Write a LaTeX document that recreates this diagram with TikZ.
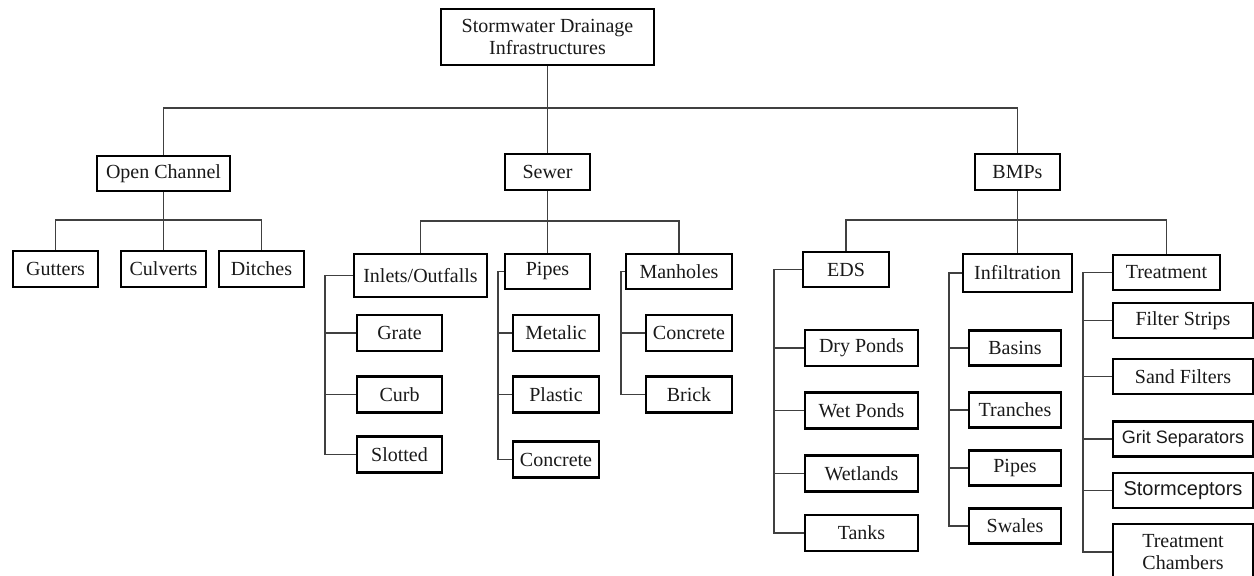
\documentclass[tikz,border=0pt]{standalone}
\usepackage{fontspec}
\setmainfont{Liberation Serif}
\setsansfont{Liberation Sans}
\tikzset{
  box/.style 2 args={draw=black, line width=1.2pt, inner sep=0pt, text=black!90,
    minimum width=#1*0.5pt, minimum height=#2*0.5pt, align=center,
    font=\fontsize{10}{11}\selectfont},
  link/.style={draw=black!75, line width=0.75pt},
}

\begin{document}
\begin{tikzpicture}[x=0.5pt,y=-0.5pt]
  \useasboundingbox (0,0) rectangle (1254,576);
  \clip (0,0) rectangle (1254,576);

  \node[box={213}{56}] (root) at (547.5,37) {Stormwater Drainage\\Infrastructures};

  \node[box={133}{35}] (oc) at (163.5,173.5) {Open Channel};
  \node[box={85}{36}] (sew) at (547.5,172) {Sewer};
  \node[box={85}{36}] (bmp) at (1017.5,172) {BMPs};

  \coordinate (mbar) at (0,108);
  \draw[link] (oc.north) |- (bmp.north |- mbar) -- (bmp.north);
  \draw[link] (root.south) -- (sew.north);

  % open channel
  \foreach \n/\x/\t in {gut/55.5/Gutters, cul/163.5/Culverts, dit/261.5/Ditches}
    \node[box={85}{36}] (\n) at (\x,269) {\t};
  \coordinate (ocbar) at (0,220);
  \draw[link] (gut.north) |- (dit.north |- ocbar) -- (dit.north);
  \draw[link] (oc.south) -- (cul.north);

  % sewer
  \node[box={133}{43}] (inl) at (420.5,275.5) {Inlets/Outfalls};
  \node[box={85}{35}] (pip) at (547.5,271.5) {Pipes};
  \node[box={106}{35}] (man) at (679,271.5) {Manholes};
  \coordinate (swbar) at (0,221);
  \draw[link] (inl.north) |- (man.north |- swbar) -- (man.north);
  \draw[link] (sew.south) -- (pip.north);

  \foreach \n/\y/\t in {grate/333/Grate, curb/394.5/Curb, slot/454.5/Slotted}
    \node[box={85}{36}] (\n) at (399.5,\y) {\t};
  \foreach \n/\y/\t in {metal/333/Metalic, plast/394.5/Plastic, pconc/459.5/Concrete}
    \node[box={86}{36}] (\n) at (556,\y) {\t};
  \foreach \n/\y/\t in {mconc/333/Concrete, brick/394.5/Brick}
    \node[box={86}{36}] (\n) at (689,\y) {\t};

  \coordinate (spinl) at (325,0);
  \coordinate (sppip) at (498,0);
  \coordinate (spman) at (621,0);
  \draw[link] (inl.west) -| (spinl |- slot.west) -- (slot.west);
  \draw[link] (pip.west) -| (sppip |- pconc.west) -- (pconc.west);
  \draw[link] (man.west) -| (spman |- brick.west) -- (brick.west);
  \foreach \c in {grate,curb} \draw[link] (\c.west) -- (\c.west -| spinl);
  \foreach \c in {metal,plast} \draw[link] (\c.west) -- (\c.west -| sppip);
  \draw[link] (mconc.west) -- (mconc.west -| spman);

  % BMPs
  \node[box={86}{35}] (eds) at (846,269.5) {EDS};
  \node[box={109}{38}] (inf) at (1017.5,273) {Infiltration};
  \node[box={107}{35}] (trt) at (1166.5,272.5) {Treatment};
  \coordinate (bmbar) at (0,220);
  \draw[link] (eds.north) |- (trt.north |- bmbar) -- (trt.north);
  \draw[link] (bmp.south) -- (inf.north);

  \foreach \n/\y/\t in {dry/348/Dry Ponds, wet/410.5/Wet Ponds, wetl/473.5/Wetlands, tank/533/Tanks}
    \node[box={113}{36}] (\n) at (861.5,\y) {\t};
  \foreach \n/\y/\t in {basin/348/Basins, tranch/410/Tranches, ipipe/468/Pipes, swale/526/Swales}
    \node[box={92}{35}] (\n) at (1015,\y) {\t};
  \foreach \n/\y/\t in {filt/320.5/Filter Strips, sand/376.5/Sand Filters}
    \node[box={140}{35}] (\n) at (1183,\y) {\t};
  \node[box={140}{35}, font=\sffamily\fontsize{9}{11}\selectfont] (grit) at (1183,439) {Grit Separators};
  \node[box={140}{35}, font=\sffamily\fontsize{10}{11}\selectfont] (storm) at (1183,490.5) {Stormceptors};
  \node[box={140}{56}] (chamb) at (1183,552) {Treatment\\Chambers};

  \coordinate (speds) at (774,0);
  \coordinate (spinf) at (949,0);
  \coordinate (sptrt) at (1083,0);
  \draw[link] (eds.west) -| (speds |- tank.west) -- (tank.west);
  \draw[link] (inf.west) -| (spinf |- swale.west) -- (swale.west);
  \draw[link] (trt.west) -| (sptrt |- chamb.west) -- (chamb.west);
  \foreach \c in {dry,wet,wetl} \draw[link] (\c.west) -- (\c.west -| speds);
  \foreach \c in {basin,tranch,ipipe} \draw[link] (\c.west) -- (\c.west -| spinf);
  \foreach \c in {filt,sand,grit,storm} \draw[link] (\c.west) -- (\c.west -| sptrt);
\end{tikzpicture}
\end{document}
